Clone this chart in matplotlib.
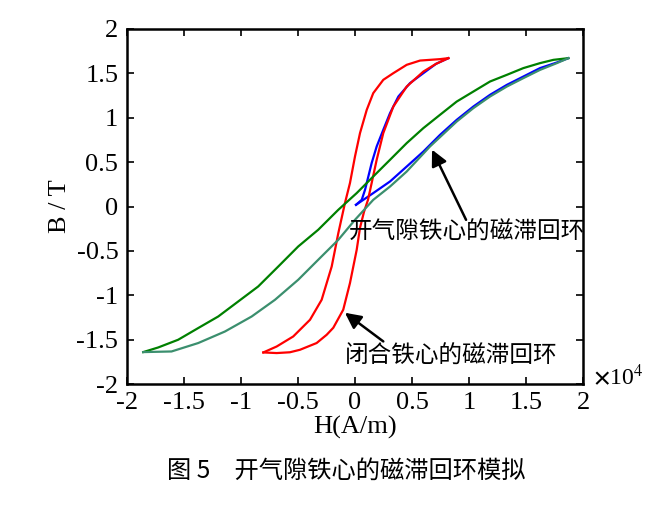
import numpy as np
import matplotlib
matplotlib.use('Agg')
import matplotlib.pyplot as plt

plt.rcParams['font.family'] = ['Liberation Serif', 'Noto Sans CJK SC']
plt.rcParams['axes.unicode_minus'] = False
plt.rcParams['mathtext.fontset'] = 'stix'

# closed core loop (H in 1e4 A/m, B in T)
red_down_h = [0.818, 0.745, 0.570, 0.453, 0.336, 0.248, 0.160, 0.103, 0.044, 0.0, -0.044,
              -0.088, -0.117, -0.146, -0.204, -0.292, -0.394, -0.541, -0.686, -0.803]
red_down_b = [1.671, 1.660, 1.644, 1.596, 1.502, 1.427, 1.277, 1.089, 0.827, 0.563, 0.264,
              0.038, -0.131, -0.300, -0.676, -1.051, -1.276, -1.464, -1.577, -1.644]
red_up_h = [-0.803, -0.686, -0.570, -0.482, -0.336, -0.248, -0.190, -0.103, -0.044, 0.015, 0.044,
            0.079, 0.114, 0.146, 0.190, 0.248, 0.336, 0.453, 0.599, 0.710, 0.818]
red_up_b = [-1.644, -1.651, -1.642, -1.614, -1.538, -1.445, -1.366, -1.163, -0.863, -0.488, -0.240,
            -0.060, 0.075, 0.264, 0.526, 0.827, 1.126, 1.351, 1.520, 1.607, 1.671]

# open air-gap core loop
green_down_h = [1.869, 1.738, 1.621, 1.475, 1.330, 1.183, 1.037, 0.891, 0.745, 0.599, 0.453, 0.307,
                0.160, 0.015, -0.146, -0.322, -0.497, -0.672, -0.848, -1.023, -1.198, -1.373,
                -1.549, -1.724, -1.855]
green_down_b = [1.671, 1.652, 1.615, 1.559, 1.483, 1.408, 1.295, 1.182, 1.033, 0.883, 0.714, 0.526,
                0.338, 0.151, -0.037, -0.262, -0.450, -0.676, -0.901, -1.070, -1.239, -1.369,
                -1.501, -1.588, -1.640]
teal_up_h = [-1.855, -1.607, -1.373, -1.139, -0.905, -0.701, -0.497, -0.322, -0.146, 0.0, 0.160,
             0.307, 0.453, 0.657, 0.891, 1.037, 1.183, 1.330, 1.475, 1.621, 1.768, 1.869]
teal_up_b = [-1.640, -1.633, -1.538, -1.408, -1.239, -1.051, -0.825, -0.600, -0.375, -0.150, 0.075,
             0.225, 0.394, 0.676, 0.957, 1.108, 1.239, 1.351, 1.446, 1.539, 1.615, 1.671]

# initial magnetisation curves
blue_closed_h = [0.009, 0.059, 0.088, 0.117, 0.146, 0.190, 0.248, 0.307, 0.380, 0.482, 0.599, 0.710, 0.818]
blue_closed_b = [0.019, 0.075, 0.188, 0.338, 0.489, 0.676, 0.864, 1.052, 1.239, 1.390, 1.502, 1.607, 1.671]
blue_open_h = [0.009, 0.160, 0.307, 0.453, 0.599, 0.745, 0.891, 1.037, 1.183, 1.330, 1.475, 1.621, 1.768, 1.869]
blue_open_b = [0.019, 0.151, 0.282, 0.450, 0.619, 0.807, 0.976, 1.126, 1.258, 1.370, 1.464, 1.559, 1.622, 1.671]

xticks = [-2, -1.5, -1, -0.5, 0, 0.5, 1, 1.5, 2]
yticks = [-2, -1.5, -1, -0.5, 0, 0.5, 1, 1.5, 2]

fig = plt.figure(figsize=(6.72, 5.08), dpi=100)
ax = fig.add_axes([0.1885, 0.244, 0.6795, 0.699])

lw = 1.6
ax.plot(blue_closed_h, blue_closed_b, color='#0000ff', lw=lw)
ax.plot(blue_open_h, blue_open_b, color='#0000ff', lw=lw)
ax.plot(red_down_h, red_down_b, color='#ff0000', lw=lw)
ax.plot(red_up_h, red_up_b, color='#ff0000', lw=lw)
ax.plot(green_down_h, green_down_b, color='#008000', lw=lw)
ax.plot(teal_up_h, teal_up_b, color='#3b8f6e', lw=lw)

ax.set_xlim(-2, 2)
ax.set_ylim(-2, 2)
ax.set_xticks(xticks)
ax.set_yticks(yticks)
ax.set_xticklabels(['%g' % v for v in xticks])
ax.set_yticklabels(['%g' % v for v in yticks])
ax.tick_params(direction='in', length=5, width=1.2, top=True, right=True,
               labelsize=19, pad=6)
for s in ax.spines.values():
    s.set_linewidth(1.8)

ax.set_xlabel('H(A/m)', fontsize=19, labelpad=1)
ax.set_ylabel('B / T', fontsize=19, labelpad=4)

fig.text(0.882, 0.258, r'$\mathbf{\times}$10$^4$', fontsize=17, ha='left', va='center')

arrow = dict(arrowstyle='-|>', color='black', lw=1.8, mutation_scale=24,
             shrinkA=0, shrinkB=0)
ax.annotate('', xy=(0.675, 0.64), xytext=(0.973, -0.15), arrowprops=arrow)
ax.annotate('', xy=(-0.088, -1.197), xytext=(0.248, -1.52), arrowprops=arrow)
ax.text(0.98, -0.30, '开气隙铁心的磁滞回环', fontsize=17, ha='center', va='center')
ax.text(0.84, -1.69, '闭合铁心的磁滞回环', fontsize=17, ha='center', va='center')

fig.text(0.515, 0.073, '图 5\u3000开气隙铁心的磁滞回环模拟', fontsize=17.5,
         ha='center', va='center', family=['Noto Sans CJK SC', 'Liberation Serif'])

fig.savefig('out.png', dpi=100)
